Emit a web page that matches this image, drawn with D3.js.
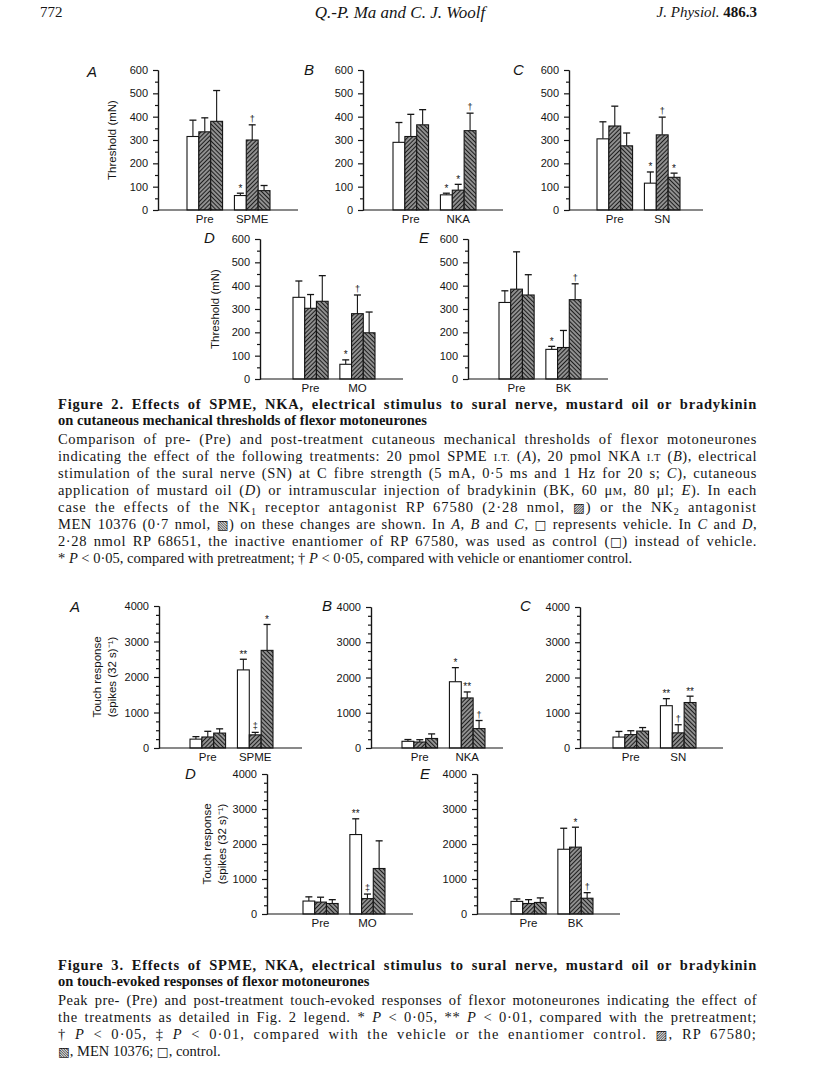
<!DOCTYPE html>
<html>
<head>
<meta charset="utf-8">
<script src="https://cdn.jsdelivr.net/npm/d3@7"></script>
<style>
body { margin: 0; background: #fff; }
svg text { fill: #151515; }
.tick text { font-family: "Liberation Sans", Arial, sans-serif; font-size: 11px; }
.xcat .tick text { font-size: 11.5px; }
.domain, .tick line { stroke: #151515; stroke-width: 1.2px; }
.cap { font-family: "Liberation Serif", "Times New Roman", serif; font-size: 14.5px; }
</style>
</head>
<body>
<script>
var treatments = ["SPME", "NKA", "SN", "MO", "BK"];
var seriesNames = ["control", "RP 67580", "MEN 10376"];

// Figure 2, threshold (mN): bar means and SEM, [control, RP 67580, MEN 10376]
var thrPre = [[315, 335, 380], [290, 315, 365], [305, 360, 275], [350, 303, 333], [328, 385, 360]];
var thrPreSem = [[70, 60, 132], [85, 95, 65], [73, 85, 55], [70, 59, 110], [50, 160, 87]];
var thrPost = [[62, 300, 83], [65, 85, 340], [115, 322, 140], [63, 280, 198], [127, 135, 340]];
var thrPostSem = [[10, 65, 22], [7, 25, 75], [48, 76, 18], [19, 80, 89], [13, 73, 68]];
var thrSig = [["*", "\u2020", ""], ["*", "*", "\u2020"], ["*", "\u2020", "*"], ["*", "\u2020", ""], ["*", "", "\u2020"]];
var thrTicks = [0, 100, 200, 300, 400, 500, 600];

// Figure 3, touch response (spikes (32 s)^-1)
var touchPre = [[250, 310, 420], [190, 170, 270], [310, 380, 480], [370, 340, 300], [360, 300, 330]];
var touchPreSem = [[70, 160, 120], [50, 65, 130], [160, 110, 100], [120, 140, 110], [70, 110, 130]];
var touchPost = [[2200, 370, 2750], [1880, 1420, 550], [1200, 430, 1290], [2270, 440, 1300], [1850, 1910, 450]];
var touchPostSem = [[300, 70, 730], [400, 170, 230], [200, 230, 180], [450, 130, 790], [600, 570, 160]];
var touchSig = [["**", "\u2021", "*"], ["*", "**", "\u2020"], ["**", "\u2020", "**"], ["**", "\u2021", ""], ["", "*", "\u2020"]];
var touchTicks = [0, 1000, 2000, 3000, 4000];

var letters = ["A", "B", "C", "D", "E"];

// panel placement on the page
var fig2Layout = [
	{ax: 158, y0: 210, h: 140, b0: 187, b1: 270, end: 298, lx: 87, ly: 77, tx: [112]},
	{ax: 363, y0: 210, h: 140, b0: 393, b1: 476, end: 503, lx: 304, ly: 75},
	{ax: 569, y0: 210, h: 140, b0: 597, b1: 680, end: 703, lx: 513, ly: 75},
	{ax: 260, y0: 379, h: 140, b0: 293, b1: 375, end: 403, lx: 204, ly: 243, tx: [215]},
	{ax: 468, y0: 379, h: 140, b0: 499, b1: 581, end: 608, lx: 419, ly: 243}
];
var fig3Layout = [
	{ax: 159, y0: 748, h: 142, b0: 190, b1: 273, end: 302, lx: 70, ly: 612, tx: [97, 112]},
	{ax: 371, y0: 748, h: 141, b0: 402, b1: 485, end: 503, lx: 322, ly: 611},
	{ax: 580, y0: 748, h: 141, b0: 613, b1: 696, end: 723, lx: 520, ly: 611},
	{ax: 267, y0: 914, h: 140, b0: 303, b1: 385, end: 413, lx: 185, ly: 779, tx: [207, 222]},
	{ax: 477, y0: 914, h: 140, b0: 511, b1: 593, end: 620, lx: 420, ly: 779}
];

var svg = d3.select("body").append("svg").attr("width", 816).attr("height", 1088);
var defs = svg.append("defs");

function hatch(id, angle) {
	var p = defs.append("pattern").attr("id", id)
		.attr("patternUnits", "userSpaceOnUse")
		.attr("width", 3).attr("height", 3)
		.attr("patternTransform", "rotate(" + angle + ")");
	p.append("rect").attr("width", 3).attr("height", 3).attr("fill", "#b5b5b5");
	p.append("line").attr("x1", 1.5).attr("x2", 1.5).attr("y1", 0).attr("y2", 3)
		.attr("stroke", "#1e1e1e").attr("stroke-width", 1.5);
}
hatch("rp", 45);
hatch("men", -45);
var fills = ["#fff", "url(#rp)", "url(#men)"];

function panel(L, k, pre, preSem, post, postSem, sig, ticks, minorStep, title) {
	var g = svg.append("g");
	var yMax = ticks[ticks.length - 1];
	var y = d3.scaleLinear().domain([0, yMax]).range([L.y0, L.y0 - L.h]);
	var x = d3.scaleBand().domain(["Pre", treatments[k]]).range([L.b0, L.b1]).paddingInner(0.25);
	var xs = d3.scaleBand().domain(seriesNames).range([0, x.bandwidth()]);

	var groups = [
		{cat: "Pre", v: pre[k], e: preSem[k], s: ["", "", ""]},
		{cat: treatments[k], v: post[k], e: postSem[k], s: sig[k]}
	];

	groups.forEach(function(gr) {
		seriesNames.forEach(function(name, i) {
			var x0 = x(gr.cat) + xs(name), w = xs.bandwidth(), cx = x0 + w / 2;
			var top = y(gr.v[i] + gr.e[i]);
			g.append("line").attr("x1", cx).attr("x2", cx)
				.attr("y1", y(gr.v[i])).attr("y2", top)
				.attr("stroke", "#151515").attr("stroke-width", 1.1);
			g.append("line").attr("x1", cx - 3.5).attr("x2", cx + 3.5)
				.attr("y1", top).attr("y2", top)
				.attr("stroke", "#151515").attr("stroke-width", 1.3);
			g.append("rect").attr("x", x0).attr("width", w)
				.attr("y", y(gr.v[i])).attr("height", L.y0 - y(gr.v[i]))
				.attr("fill", fills[i]).attr("stroke", "#151515").attr("stroke-width", 1.1);
			if (gr.s[i]) {
				var star = gr.s[i].charAt(0) == "*";
				g.append("text").attr("x", cx).attr("y", top - (star ? 1.5 : 3))
					.attr("text-anchor", "middle")
					.attr("font-family", "Liberation Sans, Arial, sans-serif")
					.attr("font-size", star ? 10 : 9)
					.text(gr.s[i]);
			}
		});
	});

	var minor = d3.range(0, yMax + 1, minorStep).filter(function(v) { return ticks.indexOf(v) < 0; });
	g.append("g").attr("transform", "translate(" + L.ax + ",0)")
		.call(d3.axisLeft(y).tickValues(minor).tickSize(3).tickSizeOuter(0).tickFormat(""));
	g.append("g").attr("transform", "translate(" + L.ax + ",0)")
		.call(d3.axisLeft(y).tickValues(ticks).tickSize(5).tickSizeOuter(0).tickPadding(5).tickFormat(d3.format("d")));

	var xa = g.append("g").attr("class", "xcat").attr("transform", "translate(0," + L.y0 + ")")
		.call(d3.axisBottom(x).tickSize(0).tickPadding(5));
	xa.select(".domain").remove();
	g.append("line").attr("x1", L.ax).attr("x2", L.end).attr("y1", L.y0).attr("y2", L.y0)
		.attr("stroke", "#151515").attr("stroke-width", 1.2);

	g.append("text").attr("x", L.lx).attr("y", L.ly)
		.attr("font-family", "Liberation Sans, Arial, sans-serif")
		.attr("font-style", "italic").attr("font-size", 15)
		.text(letters[k]);

	if (L.tx) {
		L.tx.forEach(function(tx, j) {
			g.append("text")
				.attr("transform", "translate(" + tx + "," + (L.y0 - L.h / 2) + ") rotate(-90)")
				.attr("text-anchor", "middle").attr("dy", "0.35em")
				.attr("font-family", "Liberation Sans, Arial, sans-serif").attr("font-size", 11.5)
				.text(title[j]);
		});
	}
}

for (var k = 0; k < 5; k++) {
	panel(fig2Layout[k], k, thrPre, thrPreSem, thrPost, thrPostSem, thrSig, thrTicks, 50, ["Threshold (mN)"]);
	panel(fig3Layout[k], k, touchPre, touchPreSem, touchPost, touchPostSem, touchSig, touchTicks, 250,
		["Touch response", "(spikes (32 s)\u207B\u00B9)"]);
}

// running head
var head = svg.append("g").attr("class", "cap");
head.append("text").attr("x", 40).attr("y", 17).attr("font-size", 15).text("772");
head.append("text").attr("x", 400).attr("y", 18).attr("text-anchor", "middle")
	.attr("font-style", "italic").attr("font-size", 17).text("Q.-P. Ma and C. J. Woolf");
var jp = head.append("text").attr("x", 757).attr("y", 17).attr("text-anchor", "end").attr("font-size", 15);
jp.append("tspan").attr("font-style", "italic").text("J. Physiol. ");
jp.append("tspan").attr("font-weight", "bold").text("486.3");

// captions; justified lines share the extra room between letters and words
function capLine(y, segs, opts) {
	opts = opts || {};
	var t = svg.append("text").attr("class", "cap").attr("x", 58).attr("y", y);
	if (opts.bold) t.attr("font-weight", "bold");
	var shift = 0, spaces = 0, chars = 0;
	segs.forEach(function(s) {
		if (typeof s === "string") s = [s, ""];
		spaces += (s[0].match(/ /g) || []).length;
		chars += s[0].length;
		var ts = t.append("tspan").text(s[0]);
		if (shift) { ts.attr("dy", -shift); shift = 0; }
		if (s[1] == "i") ts.attr("font-style", "italic");
		if (s[1] == "sc") ts.attr("font-size", 10.5);
		if (s[1] == "sub") { ts.attr("font-size", 10).attr("dy", 3); shift = 3; }
		if (s[1] == "sym") ts.attr("font-family", "DejaVu Sans").attr("font-size", 12.5);
	});
	if (opts.justify) {
		var extra = 699 - t.node().getComputedTextLength();
		if (extra > 0) {
			t.attr("letter-spacing", extra * 0.6 / chars)
				.attr("word-spacing", extra * 0.4 / spaces);
		} else {
			t.attr("textLength", 699).attr("lengthAdjust", "spacingAndGlyphs");
		}
	}
	return t;
}

capLine(409, ["Figure 2. Effects of SPME, NKA, electrical stimulus to sural nerve, mustard oil or bradykinin"], {bold: true, justify: true});
capLine(425, ["on cutaneous mechanical thresholds of flexor motoneurones"], {bold: true});
capLine(444, ["Comparison of pre- (Pre) and post-treatment cutaneous mechanical thresholds of flexor motoneurones"], {justify: true});
capLine(461, ["indicating the effect of the following treatments: 20 pmol SPME ", ["I.T.", "sc"], " (", ["A", "i"], "), 20 pmol NKA ", ["I.T", "sc"], " (", ["B", "i"], "), electrical"], {justify: true});
capLine(478, ["stimulation of the sural nerve (SN) at C fibre strength (5 mA, 0\u00B75 ms and 1 Hz for 20 s; ", ["C", "i"], "), cutaneous"], {justify: true});
capLine(495, ["application of mustard oil (", ["D", "i"], ") or intramuscular injection of bradykinin (BK, 60 \u03BC", ["M", "sc"], ", 80 \u03BCl; ", ["E", "i"], "). In each"], {justify: true});
capLine(512, ["case the effects of the NK", ["1", "sub"], " receptor antagonist RP 67580 (2\u00B728 nmol, ", ["\u25A8", "sym"], ") or the NK", ["2", "sub"], " antagonist"], {justify: true});
capLine(529, ["MEN 10376 (0\u00B77 nmol, ", ["\u25A7", "sym"], ") on these changes are shown. In ", ["A", "i"], ", ", ["B", "i"], " and ", ["C", "i"], ", ", ["\u25A1", "sym"], " represents vehicle. In ", ["C", "i"], " and ", ["D", "i"], ","], {justify: true});
capLine(546, ["2\u00B728 nmol RP 68651, the inactive enantiomer of RP 67580, was used as control (", ["\u25A1", "sym"], ") instead of vehicle."], {justify: true});
capLine(563, ["* ", ["P", "i"], " < 0\u00B705, compared with pretreatment; \u2020 ", ["P", "i"], " < 0\u00B705, compared with vehicle or enantiomer control."]);

capLine(970, ["Figure 3. Effects of SPME, NKA, electrical stimulus to sural nerve, mustard oil or bradykinin"], {bold: true, justify: true});
capLine(986, ["on touch-evoked responses of flexor motoneurones"], {bold: true});
capLine(1005, ["Peak pre- (Pre) and post-treatment touch-evoked responses of flexor motoneurones indicating the effect of"], {justify: true});
capLine(1022, ["the treatments as detailed in Fig. 2 legend. * ", ["P", "i"], " < 0\u00B705, ** ", ["P", "i"], " < 0\u00B701, compared with the pretreatment;"], {justify: true});
capLine(1039, ["\u2020 ", ["P", "i"], " < 0\u00B705, \u2021 ", ["P", "i"], " < 0\u00B701, compared with the vehicle or the enantiomer control. ", ["\u25A8", "sym"], ", RP 67580;"], {justify: true});
capLine(1056, [["\u25A7", "sym"], ", MEN 10376; ", ["\u25A1", "sym"], ", control."]);
</script>
</body>
</html>
